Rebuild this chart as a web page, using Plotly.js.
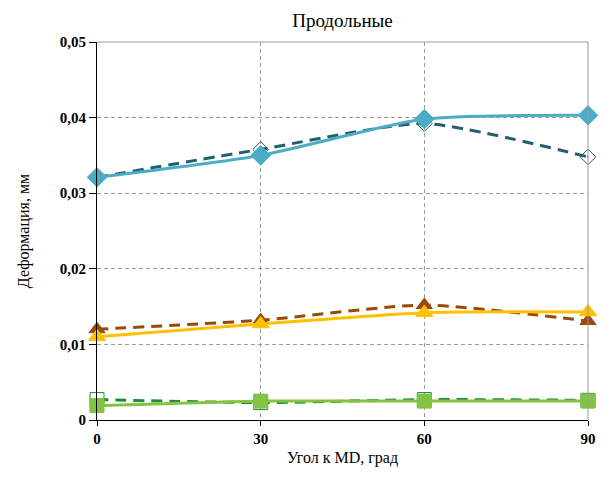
<!DOCTYPE html>
<html><head><meta charset="utf-8">
<script src="https://cdn.plot.ly/plotly-3.0.1.min.js"></script>
<style>html,body{margin:0;padding:0;background:#fff}</style>
</head><body><div id="chart" style="width:602px;height:477px"></div>
<script>
const angles = [0, 30, 60, 90];
const blueDashed = [0.0321, 0.0358, 0.0392, 0.0348];
const blueSolid = [0.0321, 0.0350, 0.0398, 0.0403];
const brownDashed = [0.0120, 0.0132, 0.0152, 0.0131];
const yellowSolid = [0.0110, 0.0127, 0.0142, 0.0143];
const greenDashed = [0.0027, 0.0023, 0.0027, 0.0026];
const greenSolid = [0.0019, 0.0025, 0.0025, 0.0025];
const yTickVals = [0, 0.01, 0.02, 0.03, 0.04, 0.05];
const yTickText = ['0', '0,01', '0,02', '0,03', '0,04', '0,05'];
const xTickVals = [0, 30, 60, 90];
const SERIF = "Liberation Serif";

function tr(y, color, dash, sym, mcolor, mline, size) {
  return {x: angles, y: y, type: 'scatter', mode: 'lines+markers',
    line: {color: color, width: 3, dash: dash, shape: 'spline', smoothing: 0.6},
    marker: {symbol: sym, size: size, color: mcolor, line: {color: mline, width: 1}},
    cliponaxis: false, showlegend: false};
}
const DASH = '11px,7px';
const data = [
  tr(blueDashed, '#245f6f', DASH, 'diamond-open-dot', '#245f6f', '#245f6f', 12),
  tr(brownDashed, '#9a4a08', DASH, 'triangle-up', '#9a4a08', '#9a4a08', 14),
  tr(greenDashed, '#1e8a3a', DASH, 'square-open', '#1e8a3a', '#1e8a3a', 14),
  tr(blueSolid, '#4bacc6', 'solid', 'diamond', '#4bacc6', '#4bacc6', 15),
  tr(yellowSolid, '#ffc000', 'solid', 'triangle-up', '#ffc000', '#ffc000', 15),
  tr(greenSolid, '#82c341', 'solid', 'square', '#82c341', '#82c341', 14)
];
const layout = {
  width: 602, height: 477,
  margin: {l: 97, r: 14, t: 42, b: 57},
  paper_bgcolor: '#fff', plot_bgcolor: '#fff',
  font: {family: SERIF, color: '#000'},
  title: {text: 'Продольные', font: {size: 19, family: SERIF}, x: 0.5, xanchor: 'center', y: 0.972, yanchor: 'top', xref: 'paper'},
  xaxis: {range: [0, 90], tickvals: xTickVals, ticktext: xTickVals.map(String),
    showgrid: true, gridcolor: '#9a9a9a', griddash: '4px,3px', gridwidth: 1,
    showline: true, linecolor: '#000', linewidth: 1, mirror: false,
    ticks: 'outside', ticklen: 5, tickcolor: '#000', zeroline: false,
    tickfont: {size: 15, family: SERIF, weight: 'bold'},
    title: {text: 'Угол к MD, град', font: {size: 16, family: SERIF}, standoff: 5}},
  yaxis: {range: [0, 0.05], tickvals: yTickVals, ticktext: yTickText,
    showgrid: true, gridcolor: '#9a9a9a', griddash: '4px,3px', gridwidth: 1,
    showline: true, linecolor: '#000', linewidth: 1,
    ticks: 'outside', ticklen: 7, tickcolor: '#000', zeroline: false,
    tickfont: {size: 15, family: SERIF, weight: 'bold'},
    title: {text: 'Деформация, мм', font: {size: 16, family: SERIF}, standoff: 26}},
  shapes: [
    {type: 'line', xref: 'paper', yref: 'paper', x0: 0, x1: 1, y0: 1, y1: 1, line: {color: '#9a9a9a', width: 1}},
    {type: 'line', xref: 'paper', yref: 'paper', x0: 1, x1: 1, y0: 0, y1: 1, line: {color: '#9a9a9a', width: 1}}
  ]
};
Plotly.newPlot('chart', data, layout, {displayModeBar: false, staticPlot: true});
</script></body></html>
